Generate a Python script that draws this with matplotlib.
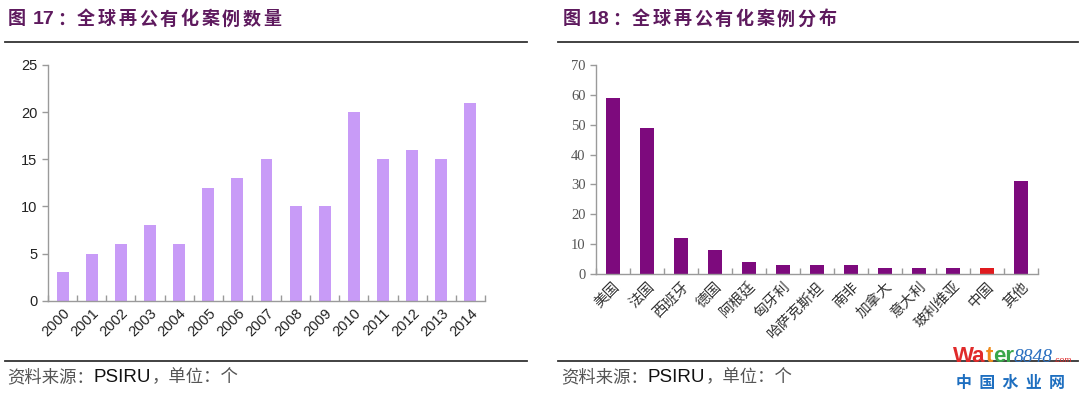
import numpy as np
import matplotlib
matplotlib.use("Agg")
import matplotlib.pyplot as plt
from matplotlib.lines import Line2D

plt.rcParams['font.family'] = ['Noto Sans CJK SC', 'DejaVu Sans']

# data
years = ['2000', '2001', '2002', '2003', '2004', '2005', '2006', '2007',
         '2008', '2009', '2010', '2011', '2012', '2013', '2014']
cases = [3, 5, 6, 8, 6, 12, 13, 15, 10, 10, 20, 15, 16, 15, 21]

countries = ['美国', '法国', '西班牙', '德国', '阿根廷', '匈牙利', '哈萨克斯坦',
             '南非', '加拿大', '意大利', '玻利维亚', '中国', '其他']
country_cases = [59, 49, 12, 8, 4, 3, 3, 3, 2, 2, 2, 2, 31]

title_left = '全球再公有化案例数量'
title_right = '全球再公有化案例分布'
source = '资料来源：'

W, H = 1080, 397
fig = plt.figure(figsize=(W / 100, H / 100), dpi=100)

def px(x, y):
    return x / W, 1 - y / H

axis_grey = '#9a9a9a'
title_col = '#5e1a5e'

def style_axes(ax, n):
    for s in ['top', 'right']:
        ax.spines[s].set_visible(False)
    for s in ['left', 'bottom']:
        ax.spines[s].set_color(axis_grey)
        ax.spines[s].set_linewidth(1.0)
    ax.set_xlim(-0.5, n - 0.5)
    ax.set_xticks(np.arange(n))
    ax.set_xticks(np.arange(n + 1) - 0.5, minor=True)
    ax.tick_params(axis='x', which='major', length=0, pad=4)
    ax.tick_params(axis='x', which='minor', direction='in', length=4,
                   color=axis_grey, width=1.0)
    ax.tick_params(axis='y', direction='out', length=4, color=axis_grey,
                   width=1.0)

# left chart
ax1 = fig.add_axes([48 / W, 1 - 300.7 / H, 437 / W, 235.7 / H])
x1 = np.arange(len(years))
ax1.bar(x1, cases, width=0.41, color='#c89bf7')
style_axes(ax1, len(years))
ax1.set_ylim(0, 25)
ax1.set_yticks(range(0, 26, 5))
ax1.set_yticklabels([str(v) for v in range(0, 26, 5)],
                    family='Liberation Sans', fontsize=10.5, color='#222222')
ax1.set_xticklabels(years, rotation=45, ha='right', rotation_mode='anchor',
                    family='Liberation Sans', fontsize=10.5, color='#222222')

# right chart
ax2 = fig.add_axes([596 / W, 1 - 274 / H, 442 / W, 209 / H])
x2 = np.arange(len(countries))
colors2 = ['#7d0a7d'] * len(countries)
colors2[countries.index('中国')] = '#e01a1e'
ax2.bar(x2, country_cases, width=0.39, color=colors2)
style_axes(ax2, len(countries))
ax2.set_ylim(0, 70)
ax2.set_yticks(range(0, 71, 10))
ax2.set_yticklabels([str(v) for v in range(0, 71, 10)],
                    family='Liberation Serif', fontsize=10.5, color='#555555')
ax2.set_xticklabels(countries, rotation=45, ha='right', rotation_mode='anchor',
                    fontsize=10.5, color='#333333')

# titles: characters placed one by one with wide spacing
for x0, num, t in [(8, '17', title_left), (563, '18', title_right)]:
    fx, fy = px(x0, 19)
    fig.text(fx, fy, '图', fontsize=13, fontweight='bold',
             color=title_col, va='center')
    fig.text((x0 + 25) / W, fy, num, family='Liberation Sans', fontsize=14,
             fontweight='bold', color=title_col, va='center')
    fig.text((x0 + 49) / W, fy, '：', fontsize=13, fontweight='bold',
             color=title_col, va='center')
    for i, ch in enumerate(t):
        fig.text((x0 + 69 + i * 20.7) / W, fy, ch, fontsize=13,
                 fontweight='bold', color=title_col, va='center')

# separator lines
for xa, xb in [(5, 527), (558, 1078)]:
    for yy in [42, 361]:
        fig.add_artist(Line2D([xa / W, xb / W], [1 - yy / H, 1 - yy / H],
                              color='#333333', linewidth=1.3))

# source notes
for x0 in [7, 561]:
    fx, fy = px(x0, 377)
    t1 = fig.text(fx, fy, source, fontsize=12.5, color='#555555', va='center')
    fig.canvas.draw()
    bb = t1.get_window_extent()
    t2 = fig.text(bb.x1 / W, fy, 'PSIRU', family='Liberation Sans',
                  fontsize=13.5, color='#111111', va='center')
    fig.canvas.draw()
    bb = t2.get_window_extent()
    fig.text(bb.x1 / W, fy, '，单位：个', fontsize=12.5, color='#555555',
             va='center')

# watermark
fx, fy = px(953, 362)
parts = [('Wa', '#e02a2a', 'Liberation Sans', 'bold', 'normal', 16),
         ('t', '#f08a1a', 'Liberation Sans', 'bold', 'normal', 16),
         ('er', '#3aa64a', 'Liberation Sans', 'bold', 'normal', 16),
         ('8848', '#2a6fc0', 'Liberation Serif', 'normal', 'italic', 14),
         ('.com', '#e02a2a', 'Liberation Sans', 'normal', 'normal', 6)]
cur = fx
for txt, col, fam, fw, st, fs in parts:
    t = fig.text(cur, fy, txt, family=fam, fontweight=fw, style=st,
                 fontsize=fs, color=col, va='baseline')
    fig.canvas.draw()
    cur = t.get_window_extent().x1 / W
fig.text(*px(1011, 383), '中  国  水  业  网', fontsize=11.5, fontweight='bold',
         color='#1e6fc0', ha='center', va='center')

fig.savefig('out.png', dpi=100)
